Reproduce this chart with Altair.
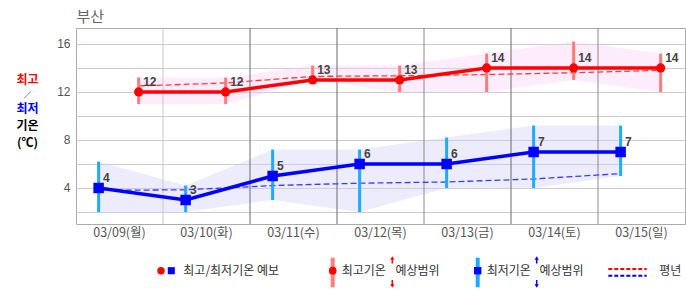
import altair as alt
import pandas as pd

# ---------------- data ----------------
dates = ["03/09(월)", "03/10(화)", "03/11(수)", "03/12(목)", "03/13(금)", "03/14(토)", "03/15(일)"]
high = [12, 12, 13, 13, 14, 14, 14]
high_upper = [13.2, 13.2, 14.2, 14.2, 15.2, 16.2, 15.2]
high_lower = [11, 11, 13, 12, 12, 13, 12]
high_normal = [12.5, 12.75, 13.3, 13.35, 13.45, 13.6, 13.8]
low = [4, 3, 5, 6, 6, 7, 7]
low_upper = [6.2, 4.2, 7.2, 7.2, 8.2, 9.2, 9.2]
low_lower = [2, 2, 3, 2, 4, 4, 5]
low_normal = [3.8, 3.85, 4.2, 4.4, 4.5, 4.75, 5.2]
y_ticks = [2, 4, 6, 8, 10, 12, 14, 16]
separators = [1, 2, 3, 4, 5, 6]

# time-of-day fractions at which min / max are plotted within each day
LOW_T = 0.26
HIGH_T = 0.72

W, H = 609, 196
KR = "Noto Sans CJK KR"

idx = list(range(len(dates)))
df = pd.DataFrame({
    "date": dates,
    "xc": [i + 0.5 for i in idx],
    "xh": [i + HIGH_T for i in idx],
    "xl": [i + LOW_T for i in idx],
    "high": high, "hu": high_upper, "hl": high_lower, "hn": high_normal,
    "low": low, "lu": low_upper, "ll": low_lower, "ln": low_normal,
})
sep_df = pd.DataFrame({
    "d": separators,
    "c": ["#c8c8c8", "#6a6a6a", "#6a6a6a", "#8a8a8a", "#6a6a6a", "#8a8a8a"],
})

xscale = alt.Scale(domain=[0, 7], nice=False, zero=False)
yscale = alt.Scale(domain=[1, 17.33], nice=False, zero=False)
yaxis = alt.Axis(values=y_ticks, labelExpr="datum.value % 4 == 0 ? datum.label : ''",
                 grid=True, gridColor="#cccccc", ticks=False, domain=False,
                 labelColor="#555555", labelFontSize=12, labelFont="Liberation Sans",
                 labelPadding=6, title=None)


def X(f):
    return alt.X(f, type="quantitative", scale=xscale, axis=None)


def Y(f):
    return alt.Y(f, type="quantitative", scale=yscale, axis=yaxis)


base = alt.Chart(df)

band_h = base.mark_area(color="#f6cef6", opacity=0.38).encode(x=X("xh"), y=Y("hu"), y2="hl")
band_l = base.mark_area(color="#cecef6", opacity=0.38).encode(x=X("xl"), y=Y("lu"), y2="ll")

seps = alt.Chart(sep_df).mark_rule(strokeWidth=1).encode(
    x=X("d"), y=alt.value(0), y2=alt.value(H), color=alt.Color("c:N", scale=None))

norm_h = base.mark_line(color="#ff3a3a", strokeDash=[6, 3], strokeWidth=1.3).encode(x=X("xh"), y=Y("hn"))
norm_l = base.mark_line(color="#3a3aff", strokeDash=[6, 3], strokeWidth=1.3).encode(x=X("xl"), y=Y("ln"))

bar_h = base.mark_rule(color="#ff7b7b", strokeWidth=3).encode(x=X("xh"), y=Y("hu"), y2="hl")
bar_l = base.mark_rule(color="#1eaaff", strokeWidth=3).encode(x=X("xl"), y=Y("lu"), y2="ll")

line_h = base.mark_line(color="#ff0000", strokeWidth=3.5).encode(x=X("xh"), y=Y("high"))
line_l = base.mark_line(color="#0000ff", strokeWidth=3.5).encode(x=X("xl"), y=Y("low"))

pt_h = base.mark_point(shape="circle", filled=True, size=85, color="#ff0000", opacity=1).encode(x=X("xh"), y=Y("high"))
pt_l = base.mark_point(shape="square", filled=True, size=110, color="#0000ff", opacity=1).encode(x=X("xl"), y=Y("low"))

lab_kw = dict(align="left", baseline="alphabetic", dx=4.5, dy=-5.5, fontWeight="bold",
              fontSize=12, color="#444444", font="Liberation Sans")
lab_h = base.mark_text(**lab_kw).encode(x=X("xh"), y=Y("high"), text="high:Q")
lab_l = base.mark_text(**lab_kw).encode(x=X("xl"), y=Y("low"), text="low:Q")

xlab = base.mark_text(fontSize=12.5, color="#555555", baseline="middle", font=KR).encode(
    x=X("xc"), y=alt.value(204.5), text="date:N")

one = alt.Data(values=[{}])


def txt(t, x, y, color="#333333", size=12, bold=False, align="left", font=KR):
    kw = dict(align=align, baseline="middle", fontSize=size, color=color, font=font)
    if bold:
        kw["fontWeight"] = "bold"
    return alt.Chart(one).mark_text(**kw).encode(x=alt.value(x), y=alt.value(y), text=alt.value(t))


def pt(x, y, shape, color, size):
    return alt.Chart(one).mark_point(shape=shape, filled=True, size=size, color=color, opacity=1).encode(
        x=alt.value(x), y=alt.value(y))


def vrule(x, y1, y2, color, w):
    return alt.Chart(one).mark_rule(color=color, strokeWidth=w).encode(
        x=alt.value(x), y=alt.value(y1), y2=alt.value(y2))


def hrule(x1, x2, y, color, w, dash):
    return alt.Chart(one).mark_rule(color=color, strokeWidth=w, strokeDash=dash).encode(
        x=alt.value(x1), x2=alt.value(x2), y=alt.value(y))


LY = 242.7
extras = [
    txt("부산", 0.5, -11.5, color="#666666", size=15, align="left"),
    txt("최고", -48.5, 52.3, color="#ff0000", size=12, bold=True, align="center"),
    txt("／", -48.5, 68.3, color="#000000", size=8, bold=False, align="center"),
    txt("최저", -48.5, 81.3, color="#0000ff", size=12, bold=True, align="center"),
    txt("기온", -48.5, 98, color="#000000", size=12, bold=True, align="center"),
    txt("(℃)", -48.5, 115.2, color="#000000", size=12, bold=True, align="center"),
    # legend
    pt(85, LY, "circle", "#ff0000", 55),
    pt(95.3, LY, "square", "#0000ff", 50),
    txt("최고/최저기온 예보", 107.3, LY),
    vrule(256.7, 229.7, 259.3, "#ff8080", 4),
    pt(256.7, LY, "circle", "#ff0000", 60),
    txt("최고기온", 265.7, LY),
    vrule(316.3, 230, 235.5, "#ff0000", 1.5),
    vrule(316.3, 252, 258, "#ff0000", 1.5),
    pt(316.3, 230, "triangle-up", "#ff0000", 18),
    pt(316.3, 258, "triangle-down", "#ff0000", 18),
    txt("예상범위", 319.5, LY),
    vrule(401.7, 229.7, 259.3, "#1eaaff", 4),
    pt(401.7, LY, "square", "#0000ff", 55),
    txt("최저기온", 410.7, LY),
    vrule(460.7, 230, 235.5, "#0000ff", 1.5),
    vrule(460.7, 252, 258, "#0000ff", 1.5),
    pt(460.7, 230, "triangle-up", "#0000ff", 18),
    pt(460.7, 258, "triangle-down", "#0000ff", 18),
    txt("예상범위", 463.5, LY),
    hrule(532.3, 570.7, 241, "#ff0000", 2, [4, 2]),
    hrule(532.3, 570.7, 247.7, "#0000ff", 2, [4, 2]),
    txt("평년", 583.3, LY),
]

chart = alt.layer(
    band_h, band_l, seps, norm_h, norm_l, bar_h, bar_l, line_h, line_l,
    pt_h, pt_l, lab_h, lab_l, xlab, *extras
).properties(
    width=W, height=H,
    autosize=alt.AutoSizeParams(type="none"),
    padding={"left": 76, "top": 28, "right": 1, "bottom": 71},
    background="white",
).configure_view(stroke="#aaaaaa", strokeWidth=1)

chart.save("out.html", embed_options={"renderer": "svg", "actions": False})
